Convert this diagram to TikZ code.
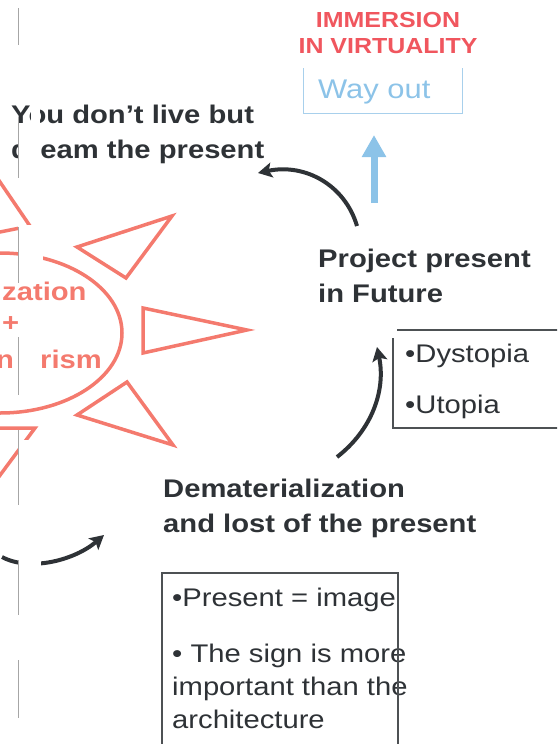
\documentclass[tikz,border=0pt]{standalone}
\usepackage{fontspec}
\setmainfont{Liberation Sans}[FakeStretch=1.145]
\usetikzlibrary{arrows.meta}
\definecolor{ink}{HTML}{2E3236}
\definecolor{salmon}{HTML}{F47A6E}
\definecolor{redtxt}{HTML}{F0565E}
\definecolor{skyblue}{HTML}{8CC3E8}
\definecolor{skyline}{HTML}{A8D0EC}
\tikzset{
  txt/.style={inner sep=0pt,anchor=base west,align=left,text=ink,font=\fontsize{25.5}{35}\selectfont},
  boldtxt/.style={txt,font=\fontsize{25.5}{35}\selectfont\bfseries},
  ray/.style={salmon,line width=3.5pt,line join=miter},
  curvearrow/.style={ink,line width=4pt,-{Stealth[length=14pt,width=15pt,inset=3pt]}},
  frame/.style={draw=ink!85,line width=1.2pt},
}
\begin{document}
\begin{tikzpicture}[x=1pt,y=-1pt]
  \path[use as bounding box,clip] (0,0) rectangle (557,744);
  % sun
  \draw[ray] (0,253) arc[start angle=-90,end angle=90,x radius=122,y radius=80];
  \draw[ray] (77,247)--(172,216)--(126,278)--cycle;
  \draw[ray] (143,308)--(247,330)--(143,353)--cycle;
  \draw[ray] (77,415)--(127,382)--(173,445)--cycle;
  \draw[ray] (-15,160)--(30,226)--(-40,240)--cycle;
  \draw[ray] (-30,428)--(35,428)--(-5,482)--cycle;
  \node[boldtxt,text=salmon] (sunA) at (2,300) {zation};
  \node[boldtxt,text=salmon] (sunB) at (2,331) {+};
  \node[boldtxt,text=salmon] (sunC) at (-4,368) {n};
  \node[boldtxt,text=salmon] (sunD) at (40,368) {rism};
  % texts (base = last line)
  \node[boldtxt] (youdont) at (11,158) {You don’t live but\\dream the present};
  \node[boldtxt] (project) at (318,302) {Project present\\in Future};
  \node[boldtxt] (demat) at (163,532) {Dematerialization\\and lost of the present};
  \node[boldtxt,anchor=base,align=center,text=redtxt,font=\fontsize{21.8}{26}\selectfont\bfseries] (immersion) at (388,53) {IMMERSION\\IN VIRTUALITY};
  \node[txt,text=skyblue,font=\fontsize{27}{30}\selectfont] (wayout) at (318,98) {Way out};
  \draw[skyline,line width=1pt] (303,68)--(303,113)--(462,113)--(462,68);
  \node[txt] (dysto) at (405,413) {•Dystopia\\[16pt]•Utopia};
  \draw[frame] (397,330)--(600,330) (393,338)--(393,428)--(600,428);
  \node[txt,font=\fontsize{25.5}{33}\selectfont] (present) at (172,728) {•Present = image\\[23pt]• The sign is more\\important than the\\architecture};
  \draw[frame] (162,573) rectangle (398,760);
  % arrows
  \coordinate (wayfoot) at (374,203);
  \coordinate (waytip) at (374,135);
  \draw[skyblue,line width=7pt,-{Triangle[length=22pt,width=23pt]}] (wayfoot)--(waytip);
  \coordinate (a1) at (357,226);
  \coordinate (b1) at (258,173);
  \draw[curvearrow] (a1) .. controls (345,185) and (305,163) .. (b1);
  \coordinate (a2) at (337,457);
  \coordinate (b2) at (377,347);
  \draw[curvearrow] (a2) .. controls (372,430) and (386,390) .. (b2);
  \coordinate (a3) at (2,557);
  \coordinate (b3) at (104,535);
  \draw[curvearrow] (a3) .. controls (30,572) and (75,560) .. (b3);
  % pasted strip
  \fill[white] (31,100) rectangle (40,126);
  \foreach \ya/\yb in {126/178,225/284,337/395,440/520,548/620}
    \fill[white] (18,\ya) rectangle (41,\yb);
  \fill[white] (18,225) rectangle (43,284);
  \foreach \ya/\yb in {8/45,117/178,227/283,337/395,430/505,560/615,660/718}
    \draw[gray!70,line width=0.6pt] (18,\ya)--(18,\yb);
\end{tikzpicture}
\end{document}
